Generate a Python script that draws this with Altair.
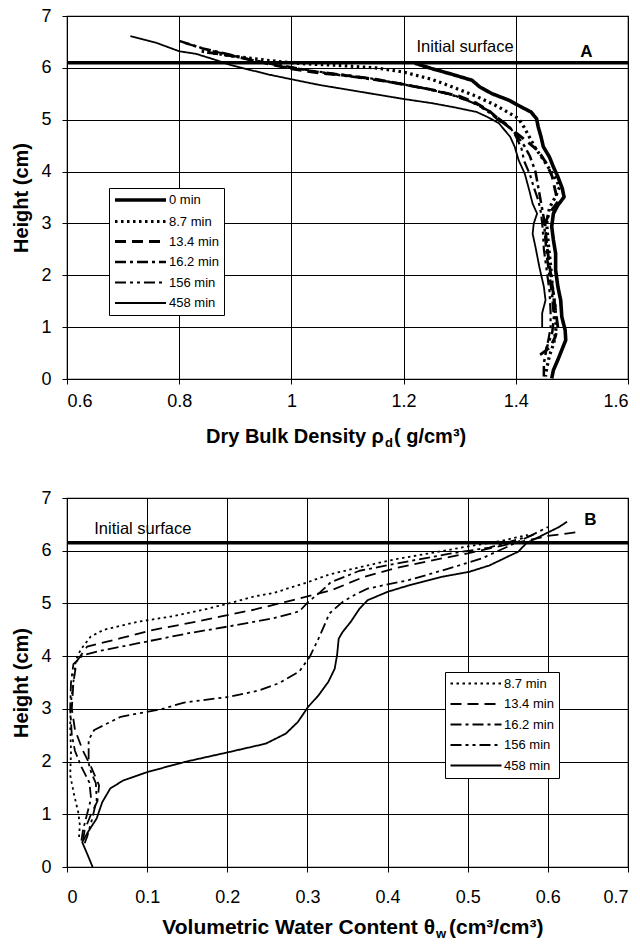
import altair as alt
import pandas as pd

FONT = "Liberation Sans"

# ---------------- Panel A : dry bulk density vs height ----------------
series_a = ["0 min", "8.7 min", "13.4 min", "16.2 min", "156 min", "458 min"]

a00_x = [1.22, 1.249, 1.285, 1.322, 1.336, 1.358, 1.387, 1.409, 1.427, 1.437, 1.44, 1.445, 1.449,
         1.46, 1.467, 1.475, 1.483, 1.486, 1.475, 1.467, 1.464, 1.467, 1.471, 1.471, 1.475, 1.48,
         1.482, 1.488, 1.489, 1.482, 1.475, 1.467, 1.464]
a00_y = [6.09, 5.99, 5.88, 5.76, 5.63, 5.50, 5.38, 5.25, 5.15, 5.02, 4.86, 4.67, 4.48,
         4.28, 4.09, 3.9, 3.67, 3.51, 3.35, 3.19, 2.94, 2.68, 2.42, 2.1, 1.78, 1.52,
         1.2, 0.94, 0.75, 0.56, 0.37, 0.17, 0.01]

a87_x = [0.84, 0.90, 0.96, 1.02, 1.08, 1.15, 1.2, 1.25, 1.29, 1.33, 1.36, 1.385, 1.405, 1.415,
         1.425, 1.435, 1.448, 1.46, 1.472, 1.478, 1.47, 1.46, 1.455, 1.458, 1.462, 1.465, 1.47,
         1.472, 1.468, 1.46, 1.455, 1.453]
a87_y = [6.32, 6.22, 6.14, 6.08, 6.05, 6.0, 5.92, 5.78, 5.62, 5.45, 5.3, 5.15, 5.02, 4.85,
         4.65, 4.45, 4.25, 4.05, 3.85, 3.7, 3.5, 3.3, 3.0, 2.6, 2.2, 1.8, 1.4,
         1.0, 0.7, 0.45, 0.2, 0.05]

a134_x = [0.85, 0.9, 0.95, 1.0, 1.05, 1.1, 1.15, 1.2, 1.25, 1.3, 1.33, 1.355, 1.37, 1.385, 1.4,
          1.42, 1.44, 1.455, 1.465, 1.47, 1.475, 1.46, 1.452, 1.455, 1.46, 1.465, 1.47, 1.475,
          1.47, 1.46, 1.445, 1.44]
a134_y = [6.3, 6.22, 6.1, 5.98, 5.9, 5.85, 5.78, 5.68, 5.58, 5.45, 5.32, 5.15, 5.0, 4.88, 4.75,
          4.58, 4.4, 4.15, 3.9, 3.65, 3.42, 3.2, 3.0, 2.6, 2.2, 1.8, 1.4, 1.0,
          0.8, 0.6, 0.48, 0.45]

a162_x = [0.80, 0.84, 0.88, 0.93, 0.98, 1.03, 1.08, 1.13, 1.18, 1.23, 1.28, 1.32, 1.35, 1.37,
          1.385, 1.4, 1.415, 1.425, 1.435, 1.44, 1.445, 1.45, 1.452, 1.455, 1.46, 1.465, 1.468,
          1.465, 1.455, 1.45, 1.45]
a162_y = [6.52, 6.38, 6.28, 6.15, 6.05, 5.95, 5.87, 5.8, 5.72, 5.62, 5.5, 5.35, 5.18, 5.02,
          4.9, 4.72, 4.5, 4.3, 4.0, 3.7, 3.4, 3.1, 2.8, 2.4, 2.0, 1.6, 1.2,
          0.9, 0.6, 0.3, 0.05]

a156_x = [0.81, 0.85, 0.89, 0.94, 0.99, 1.04, 1.09, 1.14, 1.19, 1.24, 1.29, 1.33, 1.355, 1.37,
          1.39, 1.4, 1.41, 1.415, 1.425, 1.432, 1.44, 1.445, 1.448, 1.45, 1.455, 1.46, 1.462,
          1.462, 1.458, 1.452]
a156_y = [6.48, 6.35, 6.25, 6.12, 6.02, 5.94, 5.87, 5.8, 5.7, 5.6, 5.47, 5.3, 5.12, 4.98,
          4.85, 4.68, 4.45, 4.2, 3.95, 3.7, 3.45, 3.2, 2.9, 2.5, 2.1, 1.7, 1.3,
          1.0, 0.75, 0.5]

a458_x = [0.713, 0.76, 0.80, 0.83, 0.86, 0.89, 0.93, 0.96, 1.0, 1.05, 1.1, 1.15, 1.2, 1.25,
          1.29, 1.33, 1.35, 1.37, 1.38, 1.39, 1.398, 1.405, 1.416, 1.424, 1.43, 1.438, 1.432,
          1.43, 1.435, 1.442, 1.45, 1.453, 1.447, 1.447]
a458_y = [6.61, 6.48, 6.32, 6.27, 6.17, 6.06, 5.95, 5.87, 5.78, 5.67, 5.58, 5.49, 5.4, 5.32,
          5.24, 5.15, 5.05, 4.93, 4.8, 4.67, 4.48, 4.22, 3.96, 3.64, 3.38, 3.19, 3.0,
          2.8, 2.55, 2.16, 1.78, 1.52, 1.27, 1.0]

# ---------------- Panel B : volumetric water content vs height ----------------
series_b = ["8.7 min", "13.4 min", "16.2 min", "156 min", "458 min"]

b87_x = [0.015, 0.016, 0.014, 0.009, 0.004, 0.005, 0.004, 0.005, 0.009, 0.011, 0.017, 0.0295,
         0.046, 0.0875, 0.129, 0.17, 0.202, 0.233, 0.258, 0.3, 0.3275, 0.369, 0.41, 0.452,
         0.5, 0.54, 0.575]
b87_y = [0.57, 0.8, 1.04, 1.36, 1.74, 2.18, 2.69, 3.13, 3.64, 3.92, 4.12, 4.37,
         4.5, 4.65, 4.75, 4.88, 5.0, 5.13, 5.2, 5.4, 5.55, 5.7, 5.84, 5.95,
         6.08, 6.18, 6.3]

b134_x = [0.02, 0.022, 0.03, 0.038, 0.04, 0.03, 0.02, 0.01, 0.006, 0.008, 0.012, 0.025, 0.067,
          0.108, 0.15, 0.191, 0.233, 0.273, 0.33, 0.37, 0.41, 0.45, 0.5, 0.55, 0.6, 0.64]
b134_y = [0.5, 0.7, 1.0, 1.25, 1.55, 1.9, 2.2, 2.6, 3.0, 3.5, 3.9, 4.18, 4.34,
          4.5, 4.62, 4.75, 4.88, 5.03, 5.25, 5.5, 5.67, 5.8, 5.95, 6.12, 6.28, 6.36]

b162_x = [0.018, 0.02, 0.025, 0.03, 0.028, 0.018, 0.01, 0.006, 0.004, 0.005, 0.008, 0.02, 0.038,
          0.0875, 0.15, 0.2, 0.258, 0.29, 0.301, 0.315, 0.329, 0.365, 0.426, 0.476, 0.527,
          0.578, 0.60]
b162_y = [0.5, 0.7, 1.0, 1.3, 1.6, 1.9, 2.2, 2.5, 3.0, 3.5, 3.85, 4.02, 4.09,
          4.24, 4.43, 4.56, 4.72, 4.85, 5.03, 5.2, 5.4, 5.62, 5.8, 5.94, 6.06,
          6.28, 6.45]

b156_x = [0.022, 0.025, 0.031, 0.037, 0.036, 0.03, 0.027, 0.027, 0.034, 0.067, 0.117, 0.146,
          0.203, 0.24, 0.265, 0.29, 0.303, 0.315, 0.3275, 0.344, 0.36, 0.375, 0.4, 0.426,
          0.476, 0.517, 0.553, 0.585]
b156_y = [0.45, 0.57, 0.89, 1.27, 1.59, 1.8, 1.97, 2.41, 2.6, 2.85, 2.99, 3.12,
          3.23, 3.35, 3.49, 3.71, 3.99, 4.37, 4.81, 5.03, 5.17, 5.28, 5.36, 5.44,
          5.66, 5.85, 6.1, 6.33]

b458_x = [0.032, 0.026, 0.019, 0.026, 0.037, 0.044, 0.054, 0.07, 0.1, 0.146, 0.202, 0.248, 0.273,
          0.288, 0.301, 0.314, 0.326, 0.334, 0.337, 0.339, 0.344, 0.354, 0.365, 0.375, 0.4,
          0.426, 0.466, 0.502, 0.527, 0.553, 0.563, 0.573, 0.598, 0.614, 0.624]
b458_y = [0, 0.22, 0.47, 0.66, 0.92, 1.23, 1.49, 1.64, 1.8, 1.99, 2.18, 2.34, 2.53,
          2.75, 3.04, 3.26, 3.51, 3.76, 4.02, 4.33, 4.46, 4.65, 4.9, 5.06, 5.22,
          5.34, 5.5, 5.6, 5.72, 5.91, 5.98, 6.14, 6.33, 6.45, 6.55]

# annotations
surface_a = [6.1]
surface_b = [6.15]
surface_label = ["Initial surface"]
surface_label_a_pos = [1.223, 6.4]
surface_label_b_pos = [0.034, 6.42]
panel_letters = ["A", "B"]
letter_a_pos = [1.526, 6.3]
letter_b_pos = [0.653, 6.58]
xticks_a = [0.6, 0.8, 1.0, 1.2, 1.4, 1.6]
xticks_b = [0, 0.1, 0.2, 0.3, 0.4, 0.5, 0.6, 0.7]
yticks = [0, 1, 2, 3, 4, 5, 6, 7]
title_a = ["Dry Bulk Density \u03c1", "d", "( g/cm\u00b3)"]
title_b = ["Volumetric Water Content \u03b8", "w", "(cm\u00b3/cm\u00b3)"]
y_title = "Height (cm)"

# styles
dash_by_series = {"0 min": [1, 0], "8.7 min": [2.5, 3.5], "13.4 min": [11, 6],
                  "16.2 min": [11, 4, 3, 4], "156 min": [11, 4, 3, 4, 3, 4], "458 min": [1, 0]}
width_by_series = {"0 min": 3.6, "8.7 min": 1.8, "13.4 min": 1.8, "16.2 min": 1.8,
                   "156 min": 1.8, "458 min": 1.6}

W = 561
HA = 363
HB = 369
LEGEND_SYMBOL = "M-1.2,0H9"


def frame(names, xs, ys):
    rows = []
    for n, xl, yl in zip(names, xs, ys):
        for i, (x, y) in enumerate(zip(xl, yl)):
            rows.append({"series": n, "x": x, "y": y, "i": i})
    return pd.DataFrame(rows)


df_a = frame(series_a, [a00_x, a87_x, a134_x, a162_x, a156_x, a458_x],
             [a00_y, a87_y, a134_y, a162_y, a156_y, a458_y])
df_b = frame(series_b, [b87_x, b134_x, b162_x, b156_x, b458_x],
             [b87_y, b134_y, b162_y, b156_y, b458_y])


def make_panel(df, names, xdom, xvals, height, lab_pad, legx, legy, surf, surf_pos,
               letter, letter_pos, tparts, t_anchor, t_base, t_gap, t_size):
    leg = alt.Legend(orient="none", legendX=legx, legendY=legy, title=None,
                     symbolType=LEGEND_SYMBOL, symbolSize=100, symbolStrokeColor="black",
                     labelFont=FONT, labelFontSize=13, labelColor="black",
                     strokeColor="black", fillColor="white", padding=5,
                     rowPadding=6.5, labelOffset=41)
    xs = alt.Scale(domain=xdom, nice=False, zero=False)
    ys = alt.Scale(domain=[0, 7], nice=False)
    lines = alt.Chart(df).mark_line(color="black", strokeCap="butt", strokeJoin="round").encode(
        x=alt.X("x:Q", scale=xs,
                axis=alt.Axis(values=xvals, format="~g", title=None, labelPadding=lab_pad)),
        y=alt.Y("y:Q", scale=ys,
                axis=alt.Axis(values=yticks, format="d", title=y_title, labelPadding=11,
                              titlePadding=9)),
        strokeDash=alt.StrokeDash("series:N",
                                  scale=alt.Scale(domain=names,
                                                  range=[dash_by_series[n] for n in names]),
                                  legend=leg),
        strokeWidth=alt.StrokeWidth("series:N",
                                    scale=alt.Scale(domain=names,
                                                    range=[width_by_series[n] for n in names]),
                                    legend=leg),
        order="i:Q",
    )
    rule = alt.Chart(pd.DataFrame({"y": surf})).mark_rule(color="black", strokeWidth=3.5).encode(
        y=alt.Y("y:Q", scale=ys))
    stxt = alt.Chart(pd.DataFrame({"x": [surf_pos[0]], "y": [surf_pos[1]], "t": surface_label})).mark_text(
        align="left", baseline="middle", font=FONT, fontSize=16.5, color="black").encode(
        x=alt.X("x:Q", scale=xs), y=alt.Y("y:Q", scale=ys), text="t:N")
    ltxt = alt.Chart(pd.DataFrame({"x": [letter_pos[0]], "y": [letter_pos[1]], "t": [letter]})).mark_text(
        align="center", baseline="middle", font=FONT, fontSize=17, fontWeight="bold", color="black").encode(
        x=alt.X("x:Q", scale=xs), y=alt.Y("y:Q", scale=ys), text="t:N")
    t1 = alt.Chart(pd.DataFrame({"t": [tparts[0]]})).mark_text(
        align="right", baseline="alphabetic", font=FONT, fontSize=t_size, fontWeight="bold",
        color="black").encode(x=alt.value(t_anchor), y=alt.value(height + t_base), text="t:N")
    t2 = alt.Chart(pd.DataFrame({"t": [tparts[1]]})).mark_text(
        align="left", baseline="alphabetic", font=FONT, fontSize=13, fontWeight="bold",
        color="black").encode(x=alt.value(t_anchor + 1), y=alt.value(height + t_base + 4), text="t:N")
    t3 = alt.Chart(pd.DataFrame({"t": [tparts[2]]})).mark_text(
        align="left", baseline="alphabetic", font=FONT, fontSize=t_size, fontWeight="bold",
        color="black").encode(x=alt.value(t_anchor + t_gap), y=alt.value(height + t_base), text="t:N")
    return alt.layer(lines, rule, stxt, ltxt, t1, t2, t3).properties(width=W, height=height)


panel_a = make_panel(df_a, series_a, [0.6, 1.6], xticks_a, HA, 8, 42, 172, surface_a,
                     surface_label_a_pos, panel_letters[0], letter_a_pos, title_a, 317, 64, 10, 20)
panel_b = make_panel(df_b, series_b, [0, 0.7], xticks_b, HB, 16, 378, 174, surface_b,
                     surface_label_b_pos, panel_letters[1], letter_b_pos, title_b, 368, 67, 14, 21)

chart = alt.vconcat(panel_a, panel_b, spacing=37).resolve_scale(
    strokeDash="independent", strokeWidth="independent"
).resolve_legend(
    strokeDash="independent", strokeWidth="independent"
).properties(
    padding={"left": 11, "top": 6, "right": 0, "bottom": 0},
    background="white",
).configure_view(stroke="black", strokeWidth=1.2).configure_axis(
    labelFont=FONT, labelFontSize=18, labelColor="black",
    titleFont=FONT, titleFontSize=20, titleFontWeight="bold", titleColor="black",
    grid=True, gridColor="black", gridOpacity=1, gridWidth=1,
    domainColor="black", domainWidth=1, tickColor="black", tickSize=5,
)

chart.save("out.html", embed_options={"renderer": "svg", "actions": False})
